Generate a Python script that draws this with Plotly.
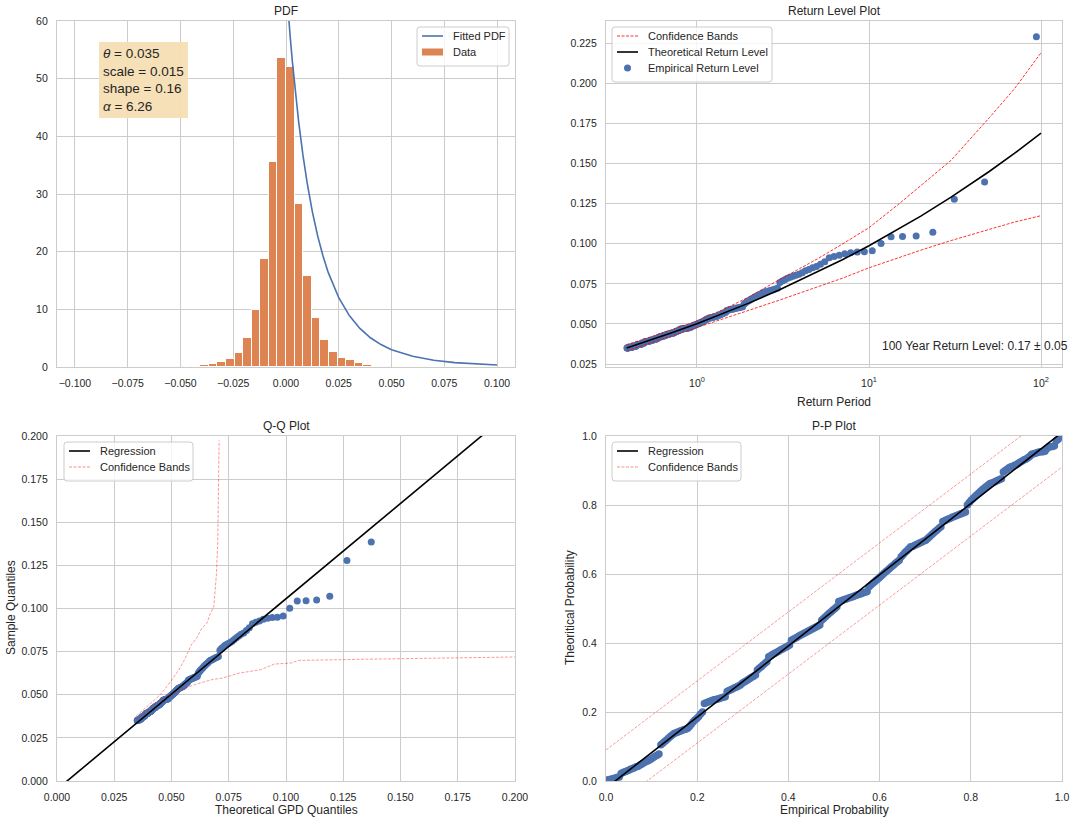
import numpy as np
import plotly.graph_objects as go

W, H = 1077, 822
FONT = "Liberation Sans, Arial, sans-serif"
TEXT = "#262626"
GRID = "#cccccc"
BLUE = "#4c72b0"
ORANGE = "#dd8452"
RED_RL = "rgba(255,0,0,0.8)"
RED_LIGHT = "rgba(255,0,0,0.45)"
DASH = "3px,1.5px"

# ---------------- fitted parameters (shown in the chart) ----------------
gpd_threshold = 0.035
gpd_scale = 0.015
gpd_shape = 0.16
tail_alpha = 6.26
rl100_value = 0.17
rl100_err = 0.05

# ---------------- PDF panel ----------------
hist_bin_centers = [-0.04677, -0.04270, -0.03863, -0.03456, -0.03049, -0.02642,
                    -0.02235, -0.01828, -0.01421, -0.01014, -0.00607, -0.00200,
                    0.00207, 0.00614, 0.01021, 0.01428, 0.01835, 0.02242,
                    0.02649, 0.03056, 0.03463, 0.03870, 0.04277, 0.04684]
hist_bin_width = 0.00407
hist_density = [0.2, 0.2, 0.35, 0.5, 0.8, 1.35, 2.45, 5.1, 9.8, 18.8, 35.5, 53.6,
                52.0, 28.2, 15.8, 8.5, 4.7, 2.65, 1.6, 1.2, 0.7, 0.4, 0.25, 0.25]

fitted_pdf_x = [0.0, 0.0005, 0.001, 0.0015, 0.002, 0.003, 0.004, 0.005, 0.006, 0.008,
                0.010, 0.0125, 0.015, 0.0175, 0.020, 0.025, 0.030, 0.035, 0.040,
                0.045, 0.050, 0.060, 0.070, 0.080, 0.090, 0.100]
fitted_pdf_y = [66.7, 64.1, 61.7, 59.4, 57.2, 53.05, 49.25, 45.74, 42.52, 36.82,
                31.97, 26.91, 22.73, 19.28, 16.41, 12.01, 8.91, 6.69, 5.07,
                3.89, 3.01, 1.85, 1.17, 0.761, 0.507, 0.345]

# ---------------- exceedances (sorted ascending) ----------------
exceedances = [
    0.03505, 0.03507, 0.03509, 0.03511, 0.03513, 0.03516, 0.03518,
    0.03533, 0.03537, 0.03541, 0.03544, 0.03548, 0.03552, 0.03555, 0.03559, 0.03563,
    0.03566, 0.03571, 0.03576, 0.03582, 0.03587,
    0.03590, 0.03595, 0.03601, 0.03606, 0.03612, 0.03617, 0.03623,
    0.03668, 0.03676, 0.03684, 0.03692, 0.03701, 0.03709, 0.03717,
    0.03725, 0.03729, 0.03733, 0.03736, 0.03740, 0.03744, 0.03747, 0.03751,
    0.03760, 0.03772, 0.03785, 0.03797,
    0.03804, 0.03816, 0.03829, 0.03841,
    0.03890, 0.03894, 0.03898, 0.03903, 0.03907, 0.03911,
    0.03913, 0.03916, 0.03919, 0.03923, 0.03926, 0.03929,
    0.03961, 0.03967, 0.03973, 0.03979, 0.03984, 0.03990, 0.03996, 0.04002,
    0.04013, 0.04021, 0.04028, 0.04036, 0.04044, 0.04052, 0.04059, 0.04067,
    0.04101, 0.04113, 0.04124, 0.04136, 0.04147, 0.04159,
    0.04194, 0.04202, 0.04210, 0.04218, 0.04226, 0.04234, 0.04242, 0.04250,
    0.04258, 0.04266, 0.04274, 0.04282,
    0.04320, 0.04328, 0.04337, 0.04345, 0.04354, 0.04362, 0.04371, 0.04379,
    0.04388, 0.04396, 0.04405, 0.04413, 0.04422, 0.04430, 0.04439, 0.04447,
    0.04490, 0.04506, 0.04522, 0.04537, 0.04553, 0.04569, 0.04585, 0.04600, 0.04616,
    0.04668, 0.04675, 0.04682, 0.04689, 0.04696, 0.04703, 0.04710, 0.04717,
    0.04725, 0.04732, 0.04739, 0.04746, 0.04753, 0.04760, 0.04767, 0.04774,
    0.04828, 0.04848, 0.04867, 0.04887, 0.04907, 0.04926, 0.04946,
    0.04967, 0.04989, 0.05011, 0.05033, 0.05055, 0.05077, 0.05099, 0.05121, 0.05143, 0.05165,
    0.05215, 0.05246, 0.05277, 0.05307, 0.05338, 0.05369,
    0.05375, 0.05390, 0.05405, 0.05420, 0.05435, 0.05450, 0.05465, 0.05480,
    0.05510, 0.05542, 0.05574, 0.05606, 0.05638, 0.05670, 0.05702, 0.05734,
    0.05843, 0.05862, 0.05881, 0.05900, 0.05919, 0.05938, 0.05957, 0.05975,
    0.05994, 0.06013, 0.06032, 0.06051, 0.06070,
    0.06253, 0.06325, 0.06396,
    0.06449, 0.06510, 0.06571, 0.06631, 0.06692, 0.06753, 0.06814, 0.06874, 0.06935, 0.06996,
    0.07020, 0.07060, 0.07100, 0.07140, 0.07180, 0.07220,
    0.0758, 0.0768, 0.0776, 0.0785, 0.0792, 0.0797, 0.0803, 0.0810, 0.0820, 0.0831,
    0.0840, 0.0851, 0.0858, 0.0872, 0.0888, 0.0912, 0.0921, 0.0928, 0.0938, 0.0944,
    0.0948, 0.0950, 0.0956, 0.1002, 0.1044, 0.1045, 0.1049, 0.1071, 0.1278, 0.1385,
    0.2290,
]
record_years = 94.0

# ---------------- return level curve and bands ----------------
rl_period = [0.39, 0.5, 0.7, 1, 1.5, 2, 3, 5, 7, 10, 15, 20, 30, 50, 70, 100]
rl_level = [0.03498, 0.03878, 0.04417, 0.0502, 0.05752, 0.0630, 0.07116, 0.08222,
            0.09001, 0.09875, 0.10931, 0.11722, 0.12902, 0.14502, 0.15628, 0.16890]
rl_upper = [0.0372, 0.0408, 0.0462, 0.0518, 0.0602, 0.0668, 0.0775, 0.0905,
            0.0998, 0.1100, 0.1250, 0.1360, 0.1520, 0.1785, 0.1965, 0.2190]
rl_lower = [0.0333, 0.0372, 0.0424, 0.0477, 0.0540, 0.0585, 0.0648, 0.0730,
            0.0785, 0.0850, 0.0915, 0.0960, 0.1020, 0.1090, 0.1135, 0.1175]

# ---------------- Q-Q bands & regression ----------------
qq_up_x = [0.0346, 0.0400, 0.0452, 0.0497, 0.0530, 0.0557, 0.0587, 0.0610,
           0.0633, 0.0655, 0.0670, 0.0685, 0.0696, 0.0702, 0.0705, 0.0708]
qq_up_y = [0.0376, 0.0440, 0.0501, 0.0578, 0.0640, 0.0703, 0.0790, 0.0829,
           0.0886, 0.0915, 0.0973, 0.1012, 0.1195, 0.1387, 0.1638, 0.1975]
qq_lo_x = [0.0346, 0.0400, 0.0452, 0.0527, 0.0602, 0.0678, 0.0723, 0.0798,
           0.0889, 0.0949, 0.1024, 0.1054, 0.1175, 0.1401, 0.1702, 0.2050]
qq_lo_y = [0.0356, 0.0415, 0.0472, 0.0520, 0.0559, 0.0588, 0.0597, 0.0626,
           0.0645, 0.0678, 0.0684, 0.0699, 0.0703, 0.0707, 0.0713, 0.0720]
qq_reg_slope, qq_reg_intercept = 1.105, -0.00486

# ---------------- P-P regression & band ----------------
pp_reg_slope, pp_reg_intercept = 1.031, -0.0208
pp_band_halfwidth = 0.09

# ---------------- legend entries ----------------
legend_pdf = [("Fitted PDF", "line", BLUE, None), ("Data", "patch", ORANGE, None)]
legend_rl = [("Confidence Bands", "line", RED_RL, DASH),
             ("Theoretical Return Level", "line", "black", None),
             ("Empirical Return Level", "marker", BLUE, None)]
legend_qq = [("Regression", "line", "black", None),
             ("Confidence Bands", "line", RED_LIGHT, DASH)]
legend_pp = [("Regression", "line", "black", None),
             ("Confidence Bands", "line", RED_LIGHT, DASH)]

# ---------------- derived plotting positions ----------------
s = np.array(exceedances)
n = len(s)
rank_desc = n - np.arange(n)
rl_emp_period = record_years / rank_desc
p_exceed = (rank_desc + 0.4) / (n + 0.8)
qq_theoretical = gpd_threshold + gpd_scale / gpd_shape * (p_exceed ** (-gpd_shape) - 1)
pp_empirical = np.arange(1, n + 1) / (n + 1)
pp_theoretical = 1 - (1 + gpd_shape * (s - gpd_threshold) / gpd_scale) ** (-1 / gpd_shape)

qq_line_x = np.array([0.0, 0.2])
qq_line_y = qq_reg_slope * qq_line_x + qq_reg_intercept
pp_line_x = np.array([0.0, 1.0])
pp_line_y = pp_reg_slope * pp_line_x + pp_reg_intercept

# ---------------- figure ----------------
fig = go.Figure()


def line_trace(x, y, color, width, dash=None, xa="x", ya="y"):
    return go.Scatter(x=x, y=y, mode="lines", showlegend=False,
                      line=dict(color=color, width=width, dash=dash),
                      xaxis=xa, yaxis=ya)


def marker_trace(x, y, size, xa, ya):
    return go.Scatter(x=x, y=y, mode="markers", showlegend=False,
                      marker=dict(color=BLUE, size=size, line=dict(width=0)),
                      xaxis=xa, yaxis=ya)


# PDF
fig.add_trace(go.Bar(x=hist_bin_centers, y=hist_density, width=hist_bin_width,
                     marker=dict(color=ORANGE, line=dict(color="white", width=1)),
                     name="Data", showlegend=False, xaxis="x", yaxis="y"))
fig.add_trace(line_trace(fitted_pdf_x, fitted_pdf_y, BLUE, 1.6))

# Return level
fig.add_trace(marker_trace(rl_emp_period, s, 7, "x2", "y2"))
fig.add_trace(line_trace(rl_period, rl_upper, RED_RL, 1, DASH, "x2", "y2"))
fig.add_trace(line_trace(rl_period, rl_lower, RED_RL, 1, DASH, "x2", "y2"))
fig.add_trace(line_trace(rl_period, rl_level, "black", 1.6, None, "x2", "y2"))

# Q-Q
fig.add_trace(marker_trace(qq_theoretical, s, 7, "x3", "y3"))
fig.add_trace(line_trace(qq_line_x, qq_line_y, "black", 1.6, None, "x3", "y3"))
fig.add_trace(line_trace(qq_up_x, qq_up_y, RED_LIGHT, 0.9, DASH, "x3", "y3"))
fig.add_trace(line_trace(qq_lo_x, qq_lo_y, RED_LIGHT, 0.9, DASH, "x3", "y3"))

# P-P
fig.add_trace(marker_trace(pp_empirical, pp_theoretical, 7.5, "x4", "y4"))
fig.add_trace(line_trace(pp_line_x, pp_line_y, "black", 1.6, None, "x4", "y4"))
fig.add_trace(line_trace(pp_line_x, pp_line_x + pp_band_halfwidth, RED_LIGHT, 0.9, DASH, "x4", "y4"))
fig.add_trace(line_trace(pp_line_x, pp_line_x - pp_band_halfwidth, RED_LIGHT, 0.9, DASH, "x4", "y4"))


def px(v):
    return v / W


def py(v):
    return 1 - v / H


XL = [px(57), px(515)]
XR = [px(606), px(1062)]
YT = [py(367), py(21)]
YB = [py(781), py(436)]


def axis(**kw):
    d = dict(showgrid=True, gridcolor=GRID, gridwidth=1, showline=True, linecolor=GRID,
             linewidth=1.25, mirror=True, zeroline=False, ticks="outside", ticklen=6,
             tickcolor="rgba(0,0,0,0)", automargin=False,
             tickfont=dict(size=10.5, color=TEXT, family=FONT))
    d.update(kw)
    return d


fig.update_layout(
    width=W, height=H, margin=dict(l=0, r=0, t=0, b=0, autoexpand=False),
    paper_bgcolor="white", plot_bgcolor="white",
    font=dict(family=FONT, color=TEXT, size=11),
    bargap=0, showlegend=False,
    xaxis=axis(domain=XL, anchor="y", range=[-0.1085, 0.1085], dtick=0.025, tick0=0,
               tickformat=".3f"),
    yaxis=axis(domain=YT, anchor="x", range=[0, 60], dtick=10),
    xaxis2=axis(domain=XR, anchor="y2", type="log", range=[-0.529, 2.122],
                tickvals=[1, 10, 100],
                ticktext=["10<sup>0</sup>", "10<sup>1</sup>", "10<sup>2</sup>"]),
    yaxis2=axis(domain=YT, anchor="x2", range=[0.0232, 0.2388], dtick=0.025, tick0=0,
                tickformat=".3f"),
    xaxis3=axis(domain=XL, anchor="y3", range=[0, 0.2], dtick=0.025, tickformat=".3f"),
    yaxis3=axis(domain=YB, anchor="x3", range=[0, 0.2], dtick=0.025, tickformat=".3f"),
    xaxis4=axis(domain=XR, anchor="y4", range=[0, 1], dtick=0.2, tickformat=".1f"),
    yaxis4=axis(domain=YB, anchor="x4", range=[0, 1], dtick=0.2, tickformat=".1f"),
)

ann = []
shapes = []


def label(text, x, y, size=12, angle=0):
    ann.append(dict(text=text, x=px(x), y=py(y), xref="paper", yref="paper",
                    xanchor="center", yanchor="middle", showarrow=False,
                    textangle=angle, font=dict(size=size, color=TEXT, family=FONT)))


def rounded_box(x0, y0, x1, y1, r=3):
    X0, X1 = px(x0), px(x1)
    Y0, Y1 = py(y0), py(y1)
    rx, ry = r / W, r / H
    path = (f"M {X0 + rx},{Y0} L {X1 - rx},{Y0} Q {X1},{Y0} {X1},{Y0 - ry} "
            f"L {X1},{Y1 + ry} Q {X1},{Y1} {X1 - rx},{Y1} "
            f"L {X0 + rx},{Y1} Q {X0},{Y1} {X0},{Y1 + ry} "
            f"L {X0},{Y0 - ry} Q {X0},{Y0} {X0 + rx},{Y0} Z")
    shapes.append(dict(type="path", path=path, xref="paper", yref="paper",
                       fillcolor="rgba(255,255,255,0.8)", line=dict(color=GRID, width=1),
                       layer="above"))


def legend(entries, left, top, right):
    pitch = 16
    bottom = top + 5 + pitch * len(entries) + 2
    rounded_box(left, top, right, bottom)
    for k, (name, kind, color, dash) in enumerate(entries):
        yc = top + 9 + pitch * k
        h0, h1 = left + 5, left + 26
        if kind == "line":
            w = 1.6 if dash is None else 1.0
            shapes.append(dict(type="line", xref="paper", yref="paper",
                               x0=px(h0), x1=px(h1), y0=py(yc), y1=py(yc),
                               line=dict(color=color, width=w, dash=dash), layer="above"))
        elif kind == "patch":
            shapes.append(dict(type="rect", xref="paper", yref="paper",
                               x0=px(h0), x1=px(h1), y0=py(yc + 3.5), y1=py(yc - 3.5),
                               fillcolor=color, line=dict(width=0), layer="above"))
        else:
            xc = (h0 + h1) / 2
            shapes.append(dict(type="circle", xref="paper", yref="paper",
                               x0=px(xc - 3.5), x1=px(xc + 3.5),
                               y0=py(yc + 3.5), y1=py(yc - 3.5),
                               fillcolor=color, line=dict(width=0), layer="above"))
        ann.append(dict(text=name, x=px(left + 34), y=py(yc), xref="paper", yref="paper",
                        xanchor="left", yanchor="middle", showarrow=False,
                        font=dict(size=11, color=TEXT, family=FONT)))


legend(legend_pdf, 417, 27, 509)
legend(legend_rl, 612, 27, 772)
legend(legend_qq, 64, 442, 193)
legend(legend_pp, 612, 442, 741)

label("PDF", 286, 11)
label("Return Level Plot", 834, 11)
label("Q-Q Plot", 286, 426)
label("P-P Plot", 834, 426)
label("Return Period", 834, 402)
label("Theoretical GPD Quantiles", 286, 810)
label("Empirical Probability", 834, 810)
label("Sample Quantiles", 11, 608, angle=-90)
label("Theoritical Probability", 570, 608, angle=-90)

ann.append(dict(
    text=(f"<i>θ</i> = {gpd_threshold:.3f}<br>scale = {gpd_scale:.3f}<br>"
          f"shape = {gpd_shape:.2f}<br><i>α</i> = {tail_alpha:.2f}"),
    x=px(99), y=py(42), xref="paper", yref="paper", xanchor="left", yanchor="top",
    align="left", showarrow=False, bgcolor="rgba(245,222,179,0.95)",
    bordercolor="rgba(245,222,179,0.95)", borderwidth=1, borderpad=3,
    font=dict(size=13.5, color=TEXT, family=FONT)))

ann.append(dict(
    text=f"100 Year Return Level: {rl100_value:.2f} ± {rl100_err:.2f}",
    x=px(880), y=py(346), xref="paper", yref="paper", xanchor="left", yanchor="middle",
    showarrow=False, font=dict(size=12, color=TEXT, family=FONT)))

fig.update_layout(annotations=ann, shapes=shapes)
fig.write_html("out.html")
